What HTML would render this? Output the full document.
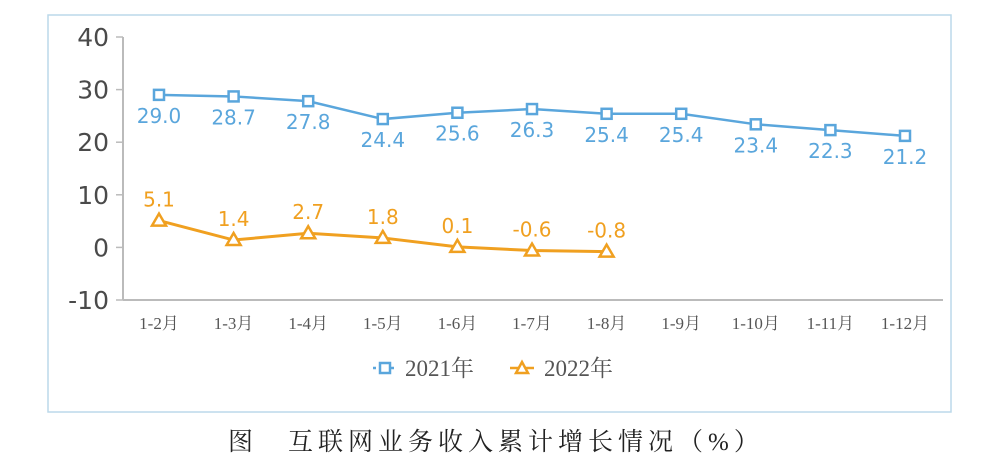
<!DOCTYPE html>
<html><head><meta charset="utf-8"><style>
body{margin:0;background:#fff;width:1000px;height:473px;overflow:hidden}
svg{display:block}
</style></head><body>
<svg width="1000" height="473" viewBox="0 0 1000 473">
<rect x="48" y="15" width="903" height="397" fill="#fff" stroke="#bcd9ea" stroke-width="1.5"/>
<g id="axes"></g>
<g id="series"></g>
<g font-family="'Liberation Serif','Noto Serif CJK SC',serif" font-size="23" fill="#555">
 <g>
  <line x1="373" y1="368" x2="397" y2="368" stroke="#5aa6dc" stroke-width="2.5" stroke-dasharray="3,3"/>
  <rect x="380" y="363" width="10" height="10" fill="#fff" stroke="#5aa6dc" stroke-width="2.5"/>
  <text x="405" y="376">2021年</text>
 </g>
 <g>
  <line x1="510" y1="368" x2="534" y2="368" stroke="#f0a020" stroke-width="2.5"/>
  <path d="M522 362 L528 373 L516 373 Z" fill="#fff" stroke="#f0a020" stroke-width="2.5"/>
  <text x="544" y="376">2022年</text>
 </g>
</g>
<text x="228" y="450" font-family="'Liberation Serif','Noto Serif CJK SC',serif" font-size="25" letter-spacing="5" fill="#222">图　互联网业务收入累计增长情况（%）</text>
</svg>
<script>
const categories=["1-2月","1-3月","1-4月","1-5月","1-6月","1-7月","1-8月","1-9月","1-10月","1-11月","1-12月"];
const values2021=[29.0,28.7,27.8,24.4,25.6,26.3,25.4,25.4,23.4,22.3,21.2];
const values2022=[5.1,1.4,2.7,1.8,0.1,-0.6,-0.8];
const yTicks=[40,30,20,10,0,-10];
const NS="http://www.w3.org/2000/svg";
const x0=159,step=74.6,yTop=37,yBot=300,yMax=40,yMin=-10;
const xs=i=>x0+i*step;
const ys=v=>yBot-(v-yMin)/(yMax-yMin)*(yBot-yTop);
function mk(t,a,p){const e=document.createElementNS(NS,t);for(const k in a)e.setAttribute(k,a[k]);p.appendChild(e);return e;}
const axes=document.getElementById('axes'),ser=document.getElementById('series');
const ya=mk('line',{x1:123,y1:yTop,x2:123,y2:yBot,stroke:'#bbb','stroke-width':2},axes);


const xa=mk('line',{x1:123,y1:yBot,x2:943,y2:yBot,stroke:'#bbb','stroke-width':2},axes);


yTicks.forEach(v=>{
 mk('line',{x1:116,y1:ys(v),x2:123,y2:ys(v),stroke:'#bbb','stroke-width':1.5},axes);
 const t=mk('text',{x:109,y:ys(v)+9,'text-anchor':'end','font-family':'DejaVu Sans,sans-serif','font-size':25,fill:'#4a4a4a'},axes);
 t.textContent=v;
 
 
});
categories.forEach((c,i)=>{
 const t=mk('text',{x:xs(i),y:329,'text-anchor':'middle','font-family':"'Liberation Serif','Noto Serif CJK SC',serif",'font-size':17,fill:'#555'},axes);
 t.textContent=c;
 
 
});
const l1=mk('polyline',{points:values2021.map((v,i)=>xs(i)+','+ys(v)).join(' '),fill:'none',stroke:'#5aa6dc','stroke-width':2.5},ser);


values2021.forEach((v,i)=>{
 const r=mk('rect',{x:xs(i)-5,y:ys(v)-5,width:10,height:10,fill:'#fff',stroke:'#5aa6dc','stroke-width':2.5},ser);
 
 
 const t=mk('text',{x:xs(i),y:ys(v)+28,'text-anchor':'middle','font-family':'DejaVu Sans,sans-serif','font-size':20,fill:'#5aa6dc'},ser);
 t.textContent=v.toFixed(1);
 
 
});
const l2=mk('polyline',{points:values2022.map((v,i)=>xs(i)+','+ys(v)).join(' '),fill:'none',stroke:'#f0a020','stroke-width':3},ser);


values2022.forEach((v,i)=>{
 const x=xs(i),y=ys(v);
 const p=mk('path',{d:`M${x} ${y-7} L${x+7} ${y+5} L${x-7} ${y+5} Z`,fill:'#fff',stroke:'#f0a020','stroke-width':2.5},ser);
 
 
 const t=mk('text',{x:x,y:y-14,'text-anchor':'middle','font-family':'DejaVu Sans,sans-serif','font-size':20,fill:'#f0a020'},ser);
 t.textContent=v.toFixed(1);
 
 
});
</script>
</body></html>
